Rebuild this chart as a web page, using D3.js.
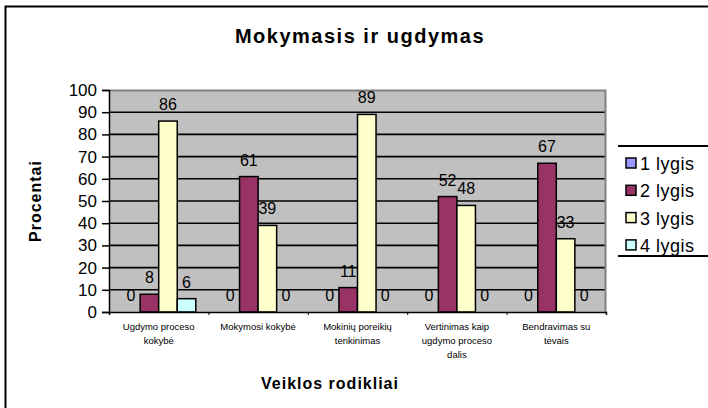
<!DOCTYPE html>
<html>
<head>
<meta charset="utf-8">
<script src="https://cdn.jsdelivr.net/npm/d3@7"></script>
<style>
  body { margin: 0; background: #fff; }
  text { font-family: Arial, "Liberation Sans", sans-serif; }
</style>
</head>
<body>
<div id="chart"></div>
<script>
// Chart data
var categories = [
    ["Ugdymo proceso", "kokybė"],
    ["Mokymosi kokybė"],
    ["Mokinių poreikių", "tenkinimas"],
    ["Vertinimas kaip", "ugdymo proceso", "dalis"],
    ["Bendravimas su", "tėvais"]
];
var seriesNames = ["1 lygis", "2 lygis", "3 lygis", "4 lygis"];
var lygis1 = [0, 0, 0, 0, 0];
var lygis2 = [8, 61, 11, 52, 67];
var lygis3 = [86, 39, 89, 48, 33];
var lygis4 = [6, 0, 0, 0, 0];
var yTicks = [0, 10, 20, 30, 40, 50, 60, 70, 80, 90, 100];

var colors = ["#9999ff", "#993366", "#ffffcc", "#ccffff"];
var allSeries = [lygis1, lygis2, lygis3, lygis4];

var svgWidth = 708;
var svgHeight = 408;

var margin = { top: 90, right: 102, bottom: 96, left: 109 };
var width = svgWidth - margin.left - margin.right;
var height = svgHeight - margin.top - margin.bottom;

var svg = d3.select("#chart")
    .append("svg")
    .attr("width", svgWidth)
    .attr("height", svgHeight);

// outer chart border (only left and top visible)
svg.append("rect")
    .attr("x", 5.5)
    .attr("y", 6.5)
    .attr("width", 720)
    .attr("height", 420)
    .attr("fill", "white")
    .attr("stroke", "black")
    .attr("stroke-width", 2);

// title
svg.append("text")
    .attr("x", 360)
    .attr("y", 43)
    .attr("text-anchor", "middle")
    .attr("font-size", "20px")
    .attr("font-weight", "bold")
    .attr("letter-spacing", "1.5px")
    .text("Mokymasis ir ugdymas");

var chartGroup = svg.append("g")
    .attr("transform", `translate(${margin.left}, ${margin.top})`);

// scales
var x0 = d3.scaleBand()
    .domain(d3.range(categories.length))
    .range([0, width]);

var x1 = d3.scaleBand()
    .domain(d3.range(seriesNames.length))
    .range([0, x0.bandwidth()])
    .paddingOuter(0.68);

var y = d3.scaleLinear()
    .domain([0, 100])
    .range([height, 0]);

// plot background
chartGroup.append("rect")
    .attr("width", width)
    .attr("height", height)
    .attr("fill", "#c0c0c0");

// gridlines
chartGroup.selectAll("line.grid")
    .data(yTicks.slice(1, -1))
    .enter()
    .append("line")
    .attr("class", "grid")
    .attr("x1", 0)
    .attr("x2", width)
    .attr("y1", d => y(d))
    .attr("y2", d => y(d))
    .attr("stroke", "black")
    .attr("stroke-width", 1.6);

// top and right border of plot
chartGroup.append("path")
    .attr("d", `M0,0.5H${width - 0.5}V${height}`)
    .attr("fill", "none")
    .attr("stroke", "#808080")
    .attr("stroke-width", 2);

// bars
var groups = chartGroup.selectAll("g.cat")
    .data(categories)
    .enter()
    .append("g")
    .attr("class", "cat")
    .attr("transform", (d, i) => `translate(${x0(i)}, 0)`);

groups.each(function (c, ci) {
    var g = d3.select(this);
    allSeries.forEach(function (s, si) {
        var v = s[ci];
        if (v > 0) {
            g.append("rect")
                .attr("x", x1(si))
                .attr("y", y(v))
                .attr("width", x1.bandwidth())
                .attr("height", height - y(v))
                .attr("fill", colors[si])
                .attr("stroke", "black")
                .attr("stroke-width", 1.5);
        }
        g.append("text")
            .attr("x", x1(si) + x1.bandwidth() / 2)
            .attr("y", y(v) - 11)
            .attr("text-anchor", "middle")
            .attr("font-size", "16px")
            .attr("fill", "black")
            .text(v);
    });
});

// axes
var leftAxis = d3.axisLeft(y).tickValues(yTicks).tickSize(7).tickPadding(5);
var yAxisG = chartGroup.append("g").call(leftAxis);
yAxisG.select(".domain").attr("stroke", "black").attr("stroke-width", 1.5);
yAxisG.selectAll(".tick line").attr("stroke", "black").attr("stroke-width", 1.5);
yAxisG.selectAll(".tick text")
    .attr("font-size", "17px")
    .attr("font-family", "Arial, 'Liberation Sans', sans-serif")
    .attr("fill", "black");

var bottomAxis = d3.axisBottom(d3.scaleLinear().domain([0, 5]).range([0, width]))
    .ticks(5).tickSize(3).tickFormat("");
var xAxisG = chartGroup.append("g")
    .attr("transform", `translate(0, ${height})`)
    .call(bottomAxis);
xAxisG.select(".domain").attr("stroke", "black").attr("stroke-width", 1.5);
xAxisG.selectAll(".tick line").attr("stroke", "black");

// category labels
groups.each(function (c, ci) {
    var t = d3.select(this).append("text")
        .attr("x", x0.bandwidth() / 2)
        .attr("y", height + 18)
        .attr("text-anchor", "middle")
        .attr("font-size", "9.5px")
        .attr("fill", "black");
    c.forEach(function (line, li) {
        t.append("tspan")
            .attr("x", x0.bandwidth() / 2)
            .attr("dy", li === 0 ? 0 : 14)
            .text(line);
    });
});

// axis titles
svg.append("text")
    .attr("x", 330)
    .attr("y", 389)
    .attr("text-anchor", "middle")
    .attr("font-size", "16px")
    .attr("font-weight", "bold")
    .attr("letter-spacing", "1px")
    .text("Veiklos rodikliai");

svg.append("text")
    .attr("transform", "translate(41, 201) rotate(-90)")
    .attr("text-anchor", "middle")
    .attr("font-size", "16px")
    .attr("font-weight", "bold")
    .attr("letter-spacing", "1px")
    .text("Procentai");

// legend
var legend = svg.append("g").attr("transform", "translate(618, 146)");
legend.append("line")
    .attr("x1", 0).attr("x2", 100).attr("y1", 0).attr("y2", 0)
    .attr("stroke", "black").attr("stroke-width", 2);
legend.append("line")
    .attr("x1", 0).attr("x2", 100).attr("y1", 110).attr("y2", 110)
    .attr("stroke", "black").attr("stroke-width", 2);

var items = legend.selectAll("g.item")
    .data(seriesNames)
    .enter()
    .append("g")
    .attr("class", "item")
    .attr("transform", (d, i) => `translate(0, ${17 + i * 27.3})`);

items.append("rect")
    .attr("x", 8)
    .attr("y", -5)
    .attr("width", 10)
    .attr("height", 10)
    .attr("fill", (d, i) => colors[i])
    .attr("stroke", "black")
    .attr("stroke-width", 1.5);

items.append("text")
    .attr("x", 22)
    .attr("y", 7)
    .attr("font-size", "18px")
    .attr("letter-spacing", "0.5px")
    .attr("fill", "black")
    .text(d => d);
</script>
</body>
</html>
